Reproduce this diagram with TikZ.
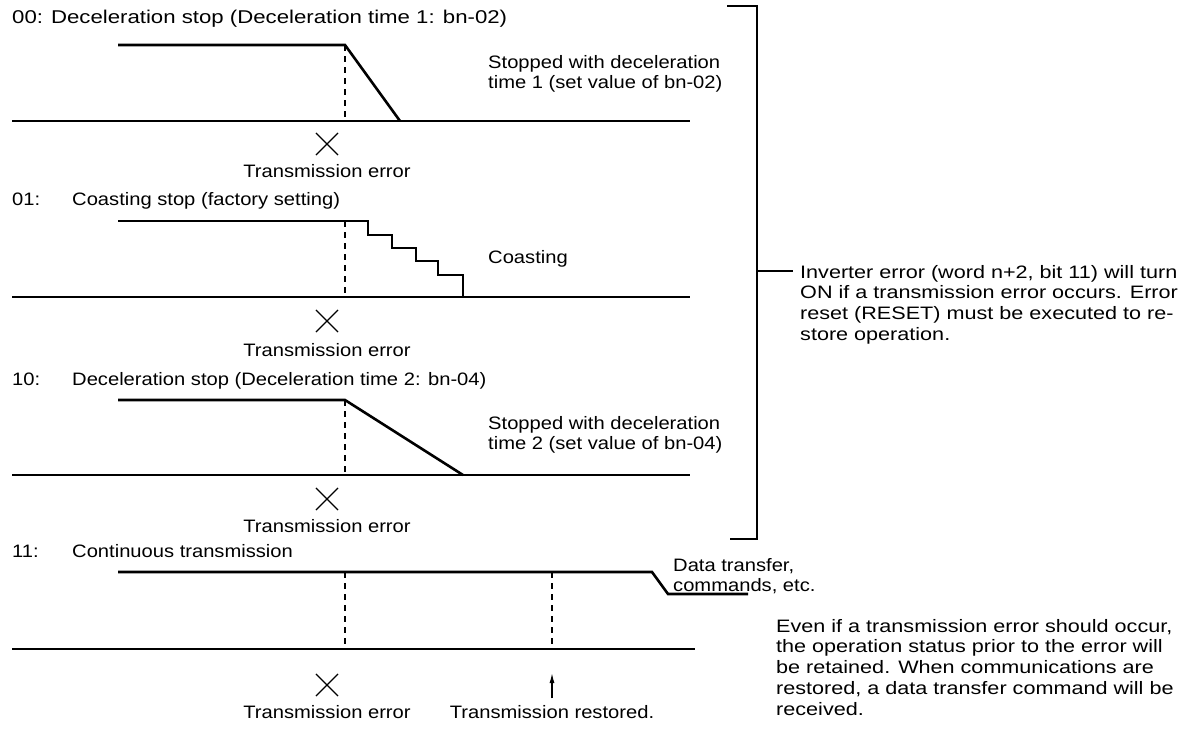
\documentclass[tikz,border=0pt]{standalone}
\usepackage{fontspec}
\setmainfont{Liberation Sans}[FakeStretch=1.12]
\newfontfamily\notefont{Liberation Sans}[FakeStretch=1.2]
\usetikzlibrary{arrows.meta, positioning, shapes.misc}

\begin{document}
\begin{tikzpicture}[x=1pt, y=-1pt,
  lbl/.style={font=\fontsize{18}{20.7}\selectfont, inner sep=0pt,
              text height=13pt, text depth=0pt},
  para/.style={font=\fontsize{18}{20.7}\selectfont, inner sep=0pt,
               align=left, anchor=north west},
  note/.style={para, font=\notefont\fontsize{18}{20.7}\selectfont},
  sig/.style={line width=2.6pt},
  base/.style={line width=1.3pt},
  guide/.style={line width=1.2pt, dash pattern=on 6pt off 5pt},
  errmark/.style={draw, cross out, line width=1.1pt, minimum size=21pt, inner sep=0pt},
  arrow/.style={-{Latex[length=10pt,width=5pt]}, line width=1.3pt}
]
\fill[white] (0,0) rectangle (1200,729);
\useasboundingbox (0,0) rectangle (1200,729);

% 00: deceleration stop, time 1
\node[lbl, anchor=west, font=\notefont\fontsize{18.5}{20.7}\selectfont] (h0) at (12,17)
  {00:\hspace{8pt}Deceleration stop (Deceleration time 1: bn-02)};
\draw[sig] (118,45) -- (345,45) -- (400,121);
\draw[base] (12,121) -- (690,121);
\draw[guide] (345,45) -- (345,121);
\node[para] (s0) at (488,55) {Stopped with deceleration\\time 1 (set value of bn-02)};
\node[errmark] (x0) at (327,144) {};
\node[lbl] (e0) at (327,171) {Transmission error};

% 01: coasting stop
\node[lbl, anchor=west] (h1) at (12,199) {01:};
\node[lbl, anchor=west] (h1t) at (72,199) {Coasting stop (factory setting)};
\draw[sig] (118,221) -- (368,221) -- (368,235) -- (392,235) -- (392,248) -- (416,248)
  -- (416,261) -- (438,261) -- (438,275) -- (463,275) -- (463,297);
\draw[base] (12,297) -- (690,297);
\draw[guide] (345,221) -- (345,297);
\node[lbl, anchor=west] (c1) at (488,257) {Coasting};
\node[errmark] (x1) at (327,321) {};
\node[lbl] (e1) at (327,350) {Transmission error};

% 10: deceleration stop, time 2
\node[lbl, anchor=west] (h2) at (12,379) {10:};
\node[lbl, anchor=west] (h2t) at (72,379) {Deceleration stop (Deceleration time 2: bn-04)};
\draw[sig] (118,400) -- (345,400) -- (463,475);
\draw[base] (12,475) -- (690,475);
\draw[guide] (345,400) -- (345,475);
\node[para] (s2) at (488,416) {Stopped with deceleration\\time 2 (set value of bn-04)};
\node[errmark] (x2) at (327,499) {};
\node[lbl] (e2) at (327,526) {Transmission error};

% 11: continuous transmission
\node[lbl, anchor=west] (h3) at (12,551) {11:};
\node[lbl, anchor=west] (h3t) at (72,551) {Continuous transmission};
\draw[sig] (118,572) -- (652,572) -- (668,594) -- (748,594);
\draw[base] (12,649) -- (695,649);
\draw[guide] (345,572) -- (345,649);
\draw[guide] (552,572) -- (552,649);
\node[para] (d3) at (673,558) {Data transfer,\\commands, etc.};
\node[errmark] (x3) at (327,685) {};
\node[lbl] (e3) at (327,712) {Transmission error};
\node[lbl] (r3) at (552,712) {Transmission restored.};
\coordinate (rtip) at (552,673);
\draw[arrow] (r3.north) ++(0,-7) -- (rtip);

% bracket and notes
\draw[base] (727,6) -| (757,539) -- (730,539);
\coordinate (brk) at (757,271);
\draw[base] (brk) -- ++(36,0);
\node[note] (inv) at (800,265) {Inverter error (word n+2, bit 11) will turn\\ON if a transmission error occurs. Error\\reset (RESET) must be executed to re-\\store operation.};
\node[note] (keep) at (776,619) {Even if a transmission error should occur,\\the operation status prior to the error will\\be retained. When communications are\\restored, a data transfer command will be\\received.};
\end{tikzpicture}
\end{document}
